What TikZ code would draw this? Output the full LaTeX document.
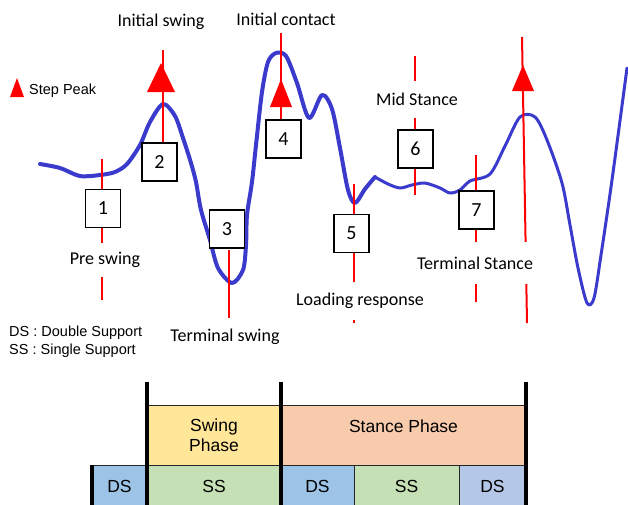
\documentclass[tikz,border=0pt]{standalone}
\usepackage{fontspec}
\setmainfont{Carlito}
\newfontfamily\arialfont{Liberation Sans}
\usetikzlibrary{positioning}

\definecolor{curveblue}{RGB}{58,58,205}
\definecolor{swingyellow}{RGB}{255,230,153}
\definecolor{stancepeach}{RGB}{248,203,173}
\definecolor{dsblue}{RGB}{157,195,230}
\definecolor{ssgreen}{RGB}{197,224,180}
\definecolor{dslav}{RGB}{180,199,231}

\begin{document}
\begin{tikzpicture}[
    x=1pt, y=-1pt,
    curve/.style={
        curveblue,
        line width=3.5pt,
        line join=round,
        line cap=round
        },
    redline/.style={
        red,
        line width=2pt
        },
    numbox/.style={
        draw,
        fill=white,
        line width=1.8pt,
        inner sep=0pt,
        minimum width=35pt,
        minimum height=38pt,
        font=\fontsize{20}{24}\selectfont
        },
    lbl/.style={
        fill=white,
        inner sep=1pt,
        font=\fontsize{18}{22}\selectfont
        },
    cell/.style={
        draw=black!85,
        line width=0.8pt,
        inner sep=0pt,
        align=center,
        font=\arialfont\fontsize{17.5}{22}\selectfont
        },
    bar/.style={
        line width=4pt
        },
]
\useasboundingbox (0,0) rectangle (628,504);

% gait signal
\draw[curve, line width=4pt] plot[smooth, tension=0.5] coordinates {
    (40,164) (60,168) (80,176) (100,175) (115,172) (127,164) (140,145)
    (150,122) (163,104) (175,116) (183,138) (191,163) (196,182) (201,210)
    (210,240) (218,268) (232,283) (243,270) (246,245) (247,215) (252,182)
    (256,145) (262,92) (268,62) (276,53) (286,56) (297,83) (309,118)
    (322,95) (332,109) (340,148) (348,190) (355,203) (365,189) (375,177)};
\draw[curve, line width=3pt] plot[smooth, tension=0.5] coordinates {
    (375,177) (388,184) (400,188) (412,185) (425,183) (440,188) (450,193)
    (460,190) (470,181) (490,174) (505,146) (520,117) (535,117) (547,140)
    (562,183) (570,225) (578,268) (587,303) (594,298) (601,255) (612,180)
    (627,68)};

% event lines
\draw[redline] (102,159) -- (102,300);
\draw[redline] (163,50) -- (163,143);
\draw[redline] (229,250) -- (229,318);
\draw[redline] (281,33) -- (281,120);
\draw[redline] (354,184) -- (354,323);
\draw[redline] (415,56) -- (415,195);
\draw[redline] (476,155) -- (476,302);
\draw[redline] (522,37) -- (527,323);

% step peaks
\fill[red] (147,92) -- (161,63) -- (175,92) -- cycle;
\fill[red] (270,107) -- (281,79) -- (292,107) -- cycle;
\fill[red] (512,91) -- (523,65) -- (534,91) -- cycle;
\fill[red] (10,97) -- (17,78) -- (24,97) -- cycle;
\node[anchor=west, inner sep=0pt, font=\arialfont\fontsize{14.5}{17}\selectfont]
    (peak) at (29,91) {Step Peak};

% phase boxes
\node[numbox] (b1) at (103,208.5) {1};
\node[numbox] (b2) at (159.5,162) {2};
\node[numbox] (b3) at (227,229) {3};
\node[numbox] (b4) at (283.5,139) {4};
\node[numbox] (b5) at (351.5,233.5) {5};
\node[numbox] (b6) at (415.5,149) {6};
\node[numbox] (b7) at (476.5,210) {7};

\node[lbl] (iswing) at (161,22) {Initial swing};
\node[lbl] (icontact) at (286,19) {Initial contact};
\node[lbl, minimum height=34pt] (preswing) at (105,260) {Pre swing};
\node[lbl] (tswing) at (225,337) {Terminal swing};
\node[lbl, minimum height=38pt] (loading) at (360,301) {Loading response};
\node[lbl, minimum height=37pt] (midst) at (417,99) {Mid Stance};
\node[lbl, minimum height=42pt] (tstance) at (475,263) {Terminal Stance};

\node[anchor=west, align=left, inner sep=0pt,
      font=\arialfont\fontsize{14.5}{18}\selectfont]
    (legend) at (9,342) {DS : Double Support\\SS : Single Support};

% support table
\node[cell, fill=swingyellow, minimum width=134pt, minimum height=60pt]
    (swing) at (214,435) {Swing\\[-2pt]Phase};
\node[cell, fill=stancepeach, minimum width=245pt, minimum height=60pt]
    (stance) at (403.5,435) {\raisebox{3pt}[0pt][0pt]{Stance Phase}};
\node[cell, fill=dsblue, minimum width=55pt, minimum height=42pt]
    (ds1) at (119.5,486) {DS};
\node[cell, fill=ssgreen, minimum width=134pt, minimum height=42pt]
    (ss1) at (214,486) {SS};
\node[cell, fill=dsblue, minimum width=73pt, minimum height=42pt]
    (ds2) at (317.5,486) {DS};
\node[cell, fill=ssgreen, minimum width=105pt, minimum height=42pt]
    (ss2) at (406.5,486) {SS};
\node[cell, fill=dslav, minimum width=67pt, minimum height=42pt]
    (ds3) at (492.5,486) {DS};

\draw[bar] ([yshift=23pt]swing.north west) -- (ss1.south west);
\draw[bar] ([yshift=23pt]stance.north west) -- (ds2.south west);
\draw[bar] ([yshift=23pt]stance.north east) -- (ds3.south east);
\draw[bar] (ds1.north west) -- (ds1.south west);

\end{tikzpicture}
\end{document}
